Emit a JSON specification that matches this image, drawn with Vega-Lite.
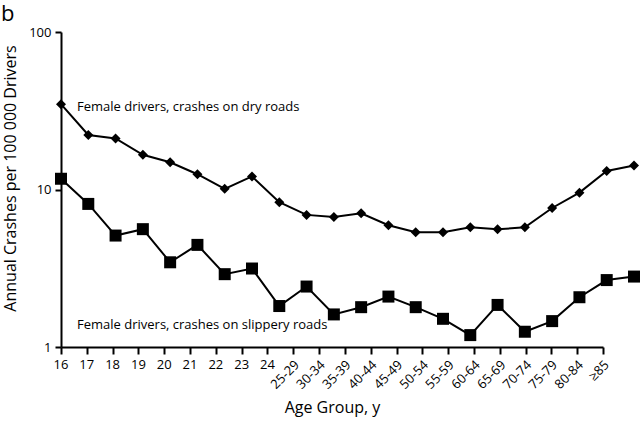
{
  "$schema": "https://vega.github.io/schema/vega-lite/v6.json",
  "width": 573,
  "height": 315,
  "autosize": "none",
  "padding": {"left": 61, "top": 32, "right": 6, "bottom": 76},
  "background": "white",
  "config": {
    "font": "Open Sans",
    "view": {"stroke": null},
    "axis": {"grid": false, "domainColor": "black", "domainWidth": 2, "tickColor": "black", "tickWidth": 2, "labelColor": "black", "titleColor": "black", "titleFontWeight": "normal"}
  },
  "title": {"text": "b", "anchor": "start", "frame": "group", "dx": -60, "offset": 2, "dy": 19, "fontSize": 22, "fontWeight": "normal", "baseline": "alphabetic", "color": "black"},
  "datasets": {
    "rates": [
      {"age": "16", "road": "dry", "rate": 34.8},
      {"age": "17", "road": "dry", "rate": 22.2},
      {"age": "18", "road": "dry", "rate": 21.1},
      {"age": "19", "road": "dry", "rate": 16.6},
      {"age": "20", "road": "dry", "rate": 14.9},
      {"age": "21", "road": "dry", "rate": 12.5},
      {"age": "22", "road": "dry", "rate": 10.1},
      {"age": "23", "road": "dry", "rate": 12.1},
      {"age": "24", "road": "dry", "rate": 8.3},
      {"age": "25-29", "road": "dry", "rate": 6.9},
      {"age": "30-34", "road": "dry", "rate": 6.7},
      {"age": "35-39", "road": "dry", "rate": 7.06},
      {"age": "40-44", "road": "dry", "rate": 5.93},
      {"age": "45-49", "road": "dry", "rate": 5.35},
      {"age": "50-54", "road": "dry", "rate": 5.35},
      {"age": "55-59", "road": "dry", "rate": 5.75},
      {"age": "60-64", "road": "dry", "rate": 5.59},
      {"age": "65-69", "road": "dry", "rate": 5.75},
      {"age": "70-74", "road": "dry", "rate": 7.63},
      {"age": "75-79", "road": "dry", "rate": 9.55},
      {"age": "80-84", "road": "dry", "rate": 13.1},
      {"age": "≥85", "road": "dry", "rate": 14.2},
      {"age": "16", "road": "slippery", "rate": 11.7},
      {"age": "17", "road": "slippery", "rate": 8.1},
      {"age": "18", "road": "slippery", "rate": 5.1},
      {"age": "19", "road": "slippery", "rate": 5.6},
      {"age": "20", "road": "slippery", "rate": 3.45},
      {"age": "21", "road": "slippery", "rate": 4.45},
      {"age": "22", "road": "slippery", "rate": 2.9},
      {"age": "23", "road": "slippery", "rate": 3.15},
      {"age": "24", "road": "slippery", "rate": 1.82},
      {"age": "25-29", "road": "slippery", "rate": 2.42},
      {"age": "30-34", "road": "slippery", "rate": 1.61},
      {"age": "35-39", "road": "slippery", "rate": 1.79},
      {"age": "40-44", "road": "slippery", "rate": 2.09},
      {"age": "45-49", "road": "slippery", "rate": 1.79},
      {"age": "50-54", "road": "slippery", "rate": 1.51},
      {"age": "55-59", "road": "slippery", "rate": 1.19},
      {"age": "60-64", "road": "slippery", "rate": 1.85},
      {"age": "65-69", "road": "slippery", "rate": 1.25},
      {"age": "70-74", "road": "slippery", "rate": 1.46},
      {"age": "75-79", "road": "slippery", "rate": 2.07},
      {"age": "80-84", "road": "slippery", "rate": 2.66},
      {"age": "≥85", "road": "slippery", "rate": 2.8}
    ],
    "notes": [
      {"age": "16", "rate": 33.4, "label": "Female drivers, crashes on dry roads"},
      {"age": "16", "rate": 1.38, "label": "Female drivers, crashes on slippery roads"}
    ]
  },
  "resolve": {"scale": {"x": "independent"}},
  "layer": [
    {
      "encoding": {
        "x": {
          "field": "age", "type": "ordinal",
          "scale": {"type": "point", "range": [0, 542], "padding": 0,
            "domain": ["16","17","18","19","20","21","22","23","24","25-29","30-34","35-39","40-44","45-49","50-54","55-59","60-64","65-69","70-74","75-79","80-84","≥85"]},
          "axis": {"title": "Age Group, y", "titleFontSize": 16, "titlePadding": 44, "labels": false, "tickSize": 7}
        }
      },
      "layer": [
        {
          "data": {"name": "rates"},
          "mark": {"type": "point", "opacity": 0},
          "encoding": {
            "y": {
              "field": "rate", "type": "quantitative",
              "scale": {"type": "log", "domain": [1, 100]},
              "axis": {"title": "Annual Crashes per 100 000 Drivers", "titleFontSize": 16, "titlePadding": 10, "titleY": 146, "values": [1, 10, 100], "format": "d", "labelFontSize": 13, "tickSize": 6, "labelPadding": 4}
            }
          }
        },
        {
          "data": {"name": "rates"},
          "transform": [{"filter": "datum.road == 'dry' && length(datum.age) <= 2"}],
          "mark": {"type": "text", "align": "center", "baseline": "top", "dy": 12, "fontSize": 13, "color": "black"},
          "encoding": {"y": {"datum": 1, "type": "quantitative"}, "text": {"field": "age"}}
        },
        {
          "data": {"name": "rates"},
          "transform": [{"filter": "datum.road == 'dry' && length(datum.age) > 2"}],
          "mark": {"type": "text", "align": "right", "baseline": "middle", "angle": -45, "dx": -8.5, "dy": 14, "fontSize": 13, "color": "black"},
          "encoding": {"y": {"datum": 1, "type": "quantitative"}, "text": {"field": "age"}}
        }
      ]
    },
    {
      "encoding": {
        "x": {
          "field": "age", "type": "ordinal",
          "scale": {"type": "point", "range": [0, 573], "padding": 0,
            "domain": ["16","17","18","19","20","21","22","23","24","25-29","30-34","35-39","40-44","45-49","50-54","55-59","60-64","65-69","70-74","75-79","80-84","≥85"]},
          "axis": null
        },
        "y": {"field": "rate", "type": "quantitative"}
      },
      "layer": [
        {
          "data": {"name": "rates"},
          "mark": {"type": "line", "color": "black", "strokeWidth": 2},
          "encoding": {"detail": {"field": "road"}}
        },
        {
          "data": {"name": "rates"},
          "mark": {"type": "point", "filled": true, "color": "black", "opacity": 1},
          "encoding": {
            "shape": {"field": "road", "type": "nominal", "scale": {"domain": ["dry", "slippery"], "range": ["diamond", "square"]}, "legend": null},
            "size": {"field": "road", "type": "nominal", "scale": {"domain": ["dry", "slippery"], "range": [100, 144]}, "legend": null}
          }
        },
        {
          "data": {"name": "notes"},
          "mark": {"type": "text", "align": "left", "baseline": "middle", "dx": 16, "fontSize": 13, "color": "black"},
          "encoding": {"text": {"field": "label"}}
        }
      ]
    }
  ]
}
